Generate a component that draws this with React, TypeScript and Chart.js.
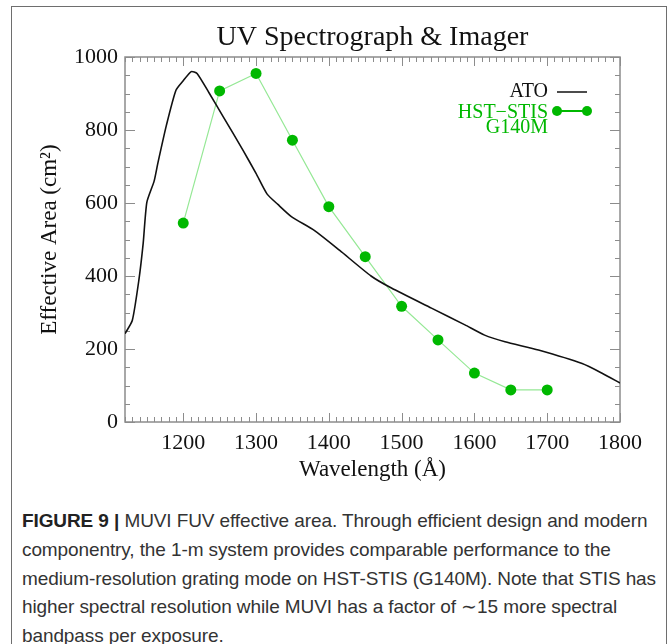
import React, { useEffect, useRef } from "react";
import { Chart, registerables } from "chart.js";

Chart.register(...registerables);

// ---- text ----
const TITLE = "UV Spectrograph & Imager";
const X_TITLE = "Wavelength (Å)";
const Y_TITLE = "Effective Area (cm²)";
const ATO_LABEL = "ATO";
const STIS_LABEL_1 = "HST−STIS";
const STIS_LABEL_2 = "G140M";

// ---- data ----
const atoWavelength = [1120, 1130, 1139, 1145, 1150, 1160, 1165, 1177, 1190, 1200, 1211, 1219, 1236, 1255, 1282, 1300, 1315, 1330, 1349, 1380, 1415, 1458, 1486, 1541, 1587, 1614, 1642, 1688, 1748, 1776, 1800];
const atoArea = [242, 278, 388, 490, 602, 660, 708, 814, 909, 935, 960, 955, 900, 836, 745, 681, 625, 596, 562, 525, 470, 400, 367, 312, 266, 238, 220, 197, 160, 133, 107];

const stisWavelength = [1200, 1250, 1300, 1350, 1400, 1450, 1500, 1550, 1600, 1650, 1700];
const stisArea = [545, 907, 955, 772, 590, 453, 317, 225, 134, 88, 88];

const xTicks = [1200, 1300, 1400, 1500, 1600, 1700, 1800];
const yTicks = [0, 200, 400, 600, 800, 1000];
const X_MIN = 1120;
const X_MAX = 1800;
const Y_MIN = 0;
const Y_MAX = 1000;
const X_MINOR_STEP = 10;
const Y_MINOR_STEP = 50;

const CAPTION_LINES = [
  "componentry, the 1-m system provides comparable performance to the",
  "medium-resolution grating mode on HST-STIS (G140M). Note that STIS has",
  "higher spectral resolution while MUVI has a factor of ∼15 more spectral",
  "bandpass per exposure.",
];
const CAPTION_BOLD = "FIGURE 9 | ";
const CAPTION_FIRST = "MUVI FUV effective area. Through efficient design and modern";

// ---- styles ----
const SERIF = "'Liberation Serif', 'Times New Roman', serif";
const SANS = "'Liberation Sans', Arial, sans-serif";
const INK = "#111111";
const FRAME = "#8c8c8c";
const GREEN = "#00b800";
const GREEN_LINE = "#95e895";

const framePlugin = {
  id: "frameTicks",
  beforeDatasetsDraw(chart: any) {
    const { ctx, chartArea: a, scales } = chart;
    const x = scales.x;
    const y = scales.y;
    ctx.save();
    ctx.strokeStyle = FRAME;
    ctx.lineWidth = 1;
    ctx.beginPath();
    for (let v = Math.ceil(X_MIN / X_MINOR_STEP) * X_MINOR_STEP; v <= X_MAX; v += X_MINOR_STEP) {
      const px = Math.round(x.getPixelForValue(v)) + 0.5;
      const len = v % 100 === 0 ? 9 : 5;
      ctx.moveTo(px, a.bottom);
      ctx.lineTo(px, a.bottom - len);
      ctx.moveTo(px, a.top);
      ctx.lineTo(px, a.top + len);
    }
    for (let v = Y_MIN; v <= Y_MAX; v += Y_MINOR_STEP) {
      const py = Math.round(y.getPixelForValue(v)) + 0.5;
      const len = v % 200 === 0 ? 10 : 5;
      ctx.moveTo(a.left, py);
      ctx.lineTo(a.left + len, py);
      ctx.moveTo(a.right, py);
      ctx.lineTo(a.right - len, py);
    }
    ctx.stroke();
    ctx.lineWidth = 1.5;
    ctx.strokeRect(a.left, a.top, a.right - a.left, a.bottom - a.top);
    ctx.restore();
  },
};

const legendPlugin = {
  id: "customLegend",
  afterDraw(chart: any) {
    const { ctx, chartArea: a } = chart;
    const textRight = a.right - 72;
    const sx0 = a.right - 63;
    const sx1 = a.right - 33;
    ctx.save();
    ctx.font = `20px ${SERIF}`;
    ctx.textAlign = "right";
    ctx.textBaseline = "alphabetic";
    // ATO
    ctx.fillStyle = INK;
    ctx.fillText(ATO_LABEL, textRight, a.top + 40);
    ctx.strokeStyle = INK;
    ctx.lineWidth = 1.5;
    ctx.beginPath();
    ctx.moveTo(sx0, a.top + 35);
    ctx.lineTo(sx1, a.top + 35);
    ctx.stroke();
    // HST-STIS
    ctx.fillStyle = GREEN;
    ctx.fillText(STIS_LABEL_1, textRight, a.top + 60.5);
    ctx.fillText(STIS_LABEL_2, textRight, a.top + 76);
    const ly = a.top + 54;
    ctx.strokeStyle = GREEN;
    ctx.lineWidth = 2;
    ctx.beginPath();
    ctx.moveTo(sx0, ly);
    ctx.lineTo(sx1, ly);
    ctx.stroke();
    ctx.beginPath();
    ctx.arc(sx0, ly, 5, 0, Math.PI * 2);
    ctx.fill();
    ctx.beginPath();
    ctx.arc(sx1, ly, 5, 0, Math.PI * 2);
    ctx.fill();
    ctx.restore();
  },
};

function ChartCanvas() {
  const ref = useRef<HTMLCanvasElement | null>(null);
  useEffect(() => {
    if (!ref.current) return;
    const atoData = atoWavelength.map((w, i) => ({ x: w, y: atoArea[i] }));
    const stisData = stisWavelength.map((w, i) => ({ x: w, y: stisArea[i] }));
    const chart = new Chart(ref.current, {
      type: "line",
      data: {
        datasets: [
          {
            label: ATO_LABEL,
            data: atoData,
            borderColor: INK,
            borderWidth: 1.6,
            pointRadius: 0,
            tension: 0.2,
            fill: false,
          },
          {
            label: STIS_LABEL_1 + " " + STIS_LABEL_2,
            data: stisData,
            borderColor: GREEN_LINE,
            borderWidth: 1.2,
            pointRadius: 5.5,
            pointBackgroundColor: GREEN,
            pointBorderWidth: 0,
            pointBorderColor: GREEN,
            tension: 0,
            fill: false,
          },
        ],
      },
      options: {
        animation: false,
        responsive: false,
        devicePixelRatio: 1,
        layout: { padding: { left: 0, right: 48, top: 0, bottom: 0 } },
        plugins: {
          legend: { display: false },
          tooltip: { enabled: false },
          title: {
            display: true,
            text: TITLE,
            fullSize: false,
            color: INK,
            font: { family: SERIF, size: 28, weight: "normal" },
            padding: { top: 21, bottom: 2.4 },
          },
        },
        scales: {
          x: {
            type: "linear",
            min: X_MIN,
            max: X_MAX,
            afterBuildTicks: (s: any) => {
              s.ticks = xTicks.map((v) => ({ value: v }));
            },
            afterFit: (s: any) => {
              s.height = 73;
            },
            grid: { display: false, drawTicks: false },
            border: { display: false },
            ticks: {
              color: INK,
              font: { family: SERIF, size: 22 },
              padding: 8,
              maxRotation: 0,
              autoSkip: false,
              callback: (v: any) => String(v),
            },
            title: {
              display: true,
              text: X_TITLE,
              color: INK,
              font: { family: SERIF, size: 23 },
              padding: { top: 0, bottom: 11 },
            },
          },
          y: {
            type: "linear",
            min: Y_MIN,
            max: Y_MAX,
            afterBuildTicks: (s: any) => {
              s.ticks = yTicks.map((v) => ({ value: v }));
            },
            afterFit: (s: any) => {
              s.width = 125;
            },
            grid: { display: false, drawTicks: false },
            border: { display: false },
            ticks: {
              color: INK,
              font: { family: SERIF, size: 22 },
              padding: 7,
              autoSkip: false,
              callback: (v: any) => String(v),
            },
            title: {
              display: true,
              text: Y_TITLE,
              color: INK,
              font: { family: SERIF, size: 23 },
              padding: { top: 36, bottom: 0 },
            },
          },
        },
      } as any,
      plugins: [framePlugin, legendPlugin],
    });
    return () => chart.destroy();
  }, []);
  return (
    <canvas
      ref={ref}
      width={668}
      height={495}
      style={{ position: "absolute", left: 0, top: 0, width: 668, height: 495 }}
    />
  );
}

export default function App() {
  return (
    <div
      style={{
        position: "absolute",
        left: 0,
        top: 0,
        width: 668,
        height: 644,
        overflow: "hidden",
        background: "#ffffff",
      }}
    >
      <div
        style={{
          position: "absolute",
          left: 11,
          top: 6,
          width: 654,
          height: 700,
          border: "1.5px solid #6e6e6e",
        }}
      />
      <ChartCanvas />
      <div
        style={{
          position: "absolute",
          left: 22,
          top: 507,
          fontFamily: SANS,
          fontSize: 19,
          letterSpacing: "-0.1px",
          lineHeight: "28.8px",
          color: "#333333",
          whiteSpace: "nowrap",
        }}
      >
        <div>
          <span style={{ fontWeight: "bold", color: "#222" }}>{CAPTION_BOLD}</span>
          {CAPTION_FIRST}
        </div>
        {CAPTION_LINES.map((l, i) => (
          <div key={i}>{l}</div>
        ))}
      </div>
    </div>
  );
}
